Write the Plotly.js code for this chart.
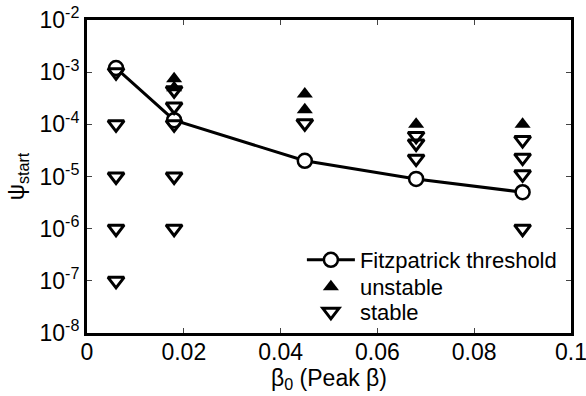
<!DOCTYPE html>
<html><head><meta charset="utf-8">
<script src="https://cdn.plot.ly/plotly-3.0.1.min.js"></script>
<style>body{margin:0;background:#fff}#c{width:586px;height:396px}</style>
</head><body><div id="c"></div>
<script>
const fitzX = [0.006, 0.018, 0.045, 0.068, 0.09];
const fitzY = [1.2e-3, 1.2e-4, 2e-5, 9e-6, 5e-6];
const unstableX = [0.018, 0.018, 0.045, 0.045, 0.068, 0.09];
const unstableY = [7.5e-4, 5e-4, 3.8e-4, 1.9e-4, 1e-4, 1e-4];
const stableX = [0.006, 0.006, 0.006, 0.006, 0.006,
                 0.018, 0.018, 0.018, 0.018, 0.018,
                 0.045,
                 0.068, 0.068, 0.068,
                 0.09, 0.09, 0.09, 0.09];
const stableY = [1e-3, 1e-4, 1e-5, 1e-6, 1e-7,
                 4.5e-4, 2.2e-4, 1e-4, 1e-5, 1e-6,
                 1.05e-4,
                 6e-5, 4.3e-5, 2.2e-5,
                 5e-5, 2.3e-5, 1.1e-5, 1e-6];
const xTicks = [0, 0.02, 0.04, 0.06, 0.08, 0.1];
const xTickText = ['0', '0.02', '0.04', '0.06', '0.08', '0.1'];
const yTicks = [1e-8, 1e-7, 1e-6, 1e-5, 1e-4, 1e-3, 1e-2];
const yTickText = ['10<sup>-8</sup>', '10<sup>-7</sup>', '10<sup>-6</sup>', '10<sup>-5</sup>', '10<sup>-4</sup>', '10<sup>-3</sup>', '10<sup>-2</sup>'];

const font = {family: 'Liberation Sans, Arial, sans-serif', color: '#000'};
const traces = [
  {x: fitzX, y: fitzY, mode: 'lines+markers', name: 'Fitzpatrick threshold', legend: 'legend',
   line: {color: '#000', width: 3},
   marker: {symbol: 'circle', size: 14, color: '#fff', line: {width: 2.5, color: '#000'}}},
  {x: unstableX, y: unstableY, mode: 'markers', name: 'unstable', legend: 'legend2',
   marker: {symbol: 'triangle-up', size: 14, color: '#000', line: {width: 0}}},
  {x: stableX, y: stableY, mode: 'markers', name: 'stable', legend: 'legend3',
   marker: {symbol: 'triangle-down-open', size: 14, color: '#000', line: {width: 3, color: '#000'}}}
];
function leg(yc) {
  return {x: 0.444, y: (333 - yc) / 313, xanchor: 'left', yanchor: 'middle',
          bgcolor: 'rgba(0,0,0,0)', font: Object.assign({size: 22}, font), itemwidth: 48};
}
const layout = {
  width: 586, height: 396,
  margin: {l: 87, r: 15, t: 20, b: 63, autoexpand: false},
  paper_bgcolor: '#fff', plot_bgcolor: '#fff',
  font: Object.assign({size: 22}, font),
  showlegend: true,
  legend: leg(260), legend2: leg(287), legend3: leg(312),
  xaxis: {range: [0, 0.1], tickvals: xTicks, ticktext: xTickText, ticks: 'inside', ticklen: 5,
          tickwidth: 1, showgrid: false, zeroline: false, showline: true, linewidth: 3,
          linecolor: '#000', mirror: 'ticks', ticklabeloverflow: 'allow', ticklabelstandoff: -4,
          title: {text: 'β<sub>0</sub> (Peak β)', font: Object.assign({size: 23}, font), standoff: 0},
          tickfont: Object.assign({size: 23}, font)},
  yaxis: {type: 'log', range: [-8, -2], tickvals: yTicks, ticktext: yTickText, ticks: 'inside',
          ticklen: 5, tickwidth: 1, showgrid: false, zeroline: false, showline: true, linewidth: 3,
          linecolor: '#000', mirror: 'ticks', ticklabeloverflow: 'allow',
          title: {text: 'ψ<sub>start</sub>', font: Object.assign({size: 23}, font), standoff: 9},
          tickfont: Object.assign({size: 23}, font)}
};
Plotly.newPlot('c', traces, layout, {displayModeBar: false, staticPlot: true});
</script></body></html>
